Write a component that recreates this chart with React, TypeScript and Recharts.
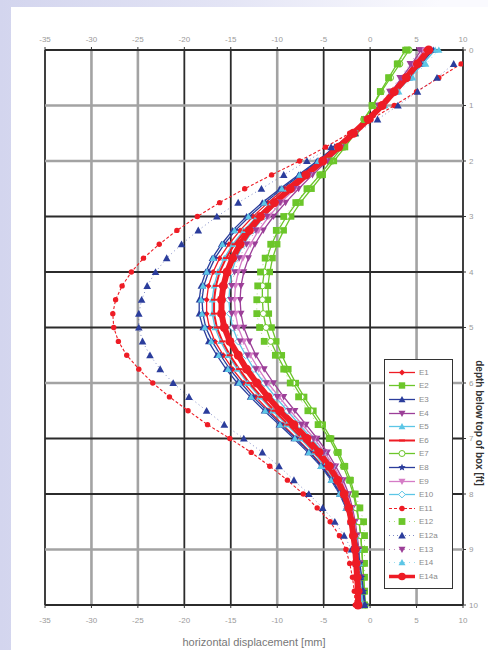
import { LineChart, Line, XAxis, YAxis, ReferenceLine, Legend } from "recharts";

// depth below top of box [ft], one row per reading
const DEPTH = [
  0, 0.25, 0.5, 0.75, 1, 1.25, 1.5, 1.75, 2, 2.25,
  2.5, 2.75, 3, 3.25, 3.5, 3.75, 4, 4.25, 4.5, 4.75,
  5, 5.25, 5.5, 5.75, 6, 6.25, 6.5, 6.75, 7, 7.25,
  7.5, 7.75, 8, 8.25, 8.5, 8.75, 9, 9.25, 9.5, 9.75, 10,
];

// horizontal displacement [mm]
const E1 = [
  6.0, 4.9, 3.7, 2.5, 1.2, -0.3, -1.9, -3.6, -5.4, -7.3,
  -9.2, -11.0, -12.6, -14.0, -15.2, -16.2, -16.9, -17.4, -17.6, -17.6,
  -17.3, -16.7, -15.8, -14.8, -13.6, -12.3, -10.9, -9.4, -7.9, -6.4,
  -5.1, -4.0, -3.1, -2.5, -2.0, -1.7, -1.5, -1.3, -1.2, -1.1, -1.0,
];
const E2 = [
  3.8, 2.9, 2.0, 1.1, 0.3, -0.6, -1.6, -2.7, -3.9, -5.1,
  -6.3, -7.5, -8.5, -9.3, -10.0, -10.5, -10.8, -11.0, -11.0, -10.9,
  -10.6, -10.1, -9.5, -8.8, -8.0, -7.1, -6.1, -5.1, -4.2, -3.4,
  -2.7, -2.1, -1.7, -1.4, -1.2, -1.0, -0.9, -0.8, -0.7, -0.6, -0.6,
];
const E3 = [
  6.8, 5.5, 4.2, 2.8, 1.4, -0.2, -1.9, -3.8, -5.7, -7.7,
  -9.7, -11.6, -13.3, -14.8, -16.0, -17.0, -17.7, -18.2, -18.4, -18.4,
  -18.0, -17.4, -16.5, -15.5, -14.3, -12.9, -11.4, -9.8, -8.2, -6.7,
  -5.3, -4.2, -3.3, -2.6, -2.1, -1.7, -1.4, -1.2, -1.0, -0.8, -0.6,
];
const E4 = [
  5.5, 4.5, 3.4, 2.3, 1.1, -0.2, -1.6, -3.1, -4.6, -6.2,
  -7.7, -9.1, -10.4, -11.5, -12.4, -13.1, -13.6, -13.9, -14.0, -13.9,
  -13.6, -13.0, -12.3, -11.4, -10.4, -9.3, -8.1, -6.9, -5.7, -4.6,
  -3.7, -2.9, -2.3, -1.9, -1.6, -1.4, -1.2, -1.1, -1.0, -0.9, -0.8,
];
const E5 = [
  7.0, 5.7, 4.3, 2.9, 1.4, -0.1, -1.7, -3.5, -5.3, -7.1,
  -8.9, -10.6, -12.2, -13.6, -14.8, -15.7, -16.4, -16.8, -17.0, -17.0,
  -16.7, -16.1, -15.3, -14.3, -13.2, -11.9, -10.5, -9.0, -7.5, -6.1,
  -4.9, -3.9, -3.0, -2.4, -1.9, -1.6, -1.3, -1.1, -1.0, -0.9, -0.8,
];
const E6 = [
  6.5, 5.3, 4.0, 2.7, 1.3, -0.2, -1.8, -3.5, -5.2, -7.0,
  -8.8, -10.5, -12.1, -13.4, -14.6, -15.5, -16.2, -16.6, -16.8, -16.8,
  -16.5, -15.9, -15.1, -14.1, -13.0, -11.7, -10.3, -8.8, -7.3, -5.9,
  -4.7, -3.7, -2.9, -2.3, -1.9, -1.6, -1.4, -1.3, -1.2, -1.1, -1.1,
];
const E7 = [
  4.2, 3.2, 2.2, 1.2, 0.3, -0.7, -1.8, -3.0, -4.2, -5.4,
  -6.7, -7.9, -9.0, -9.9, -10.6, -11.1, -11.4, -11.6, -11.6, -11.5,
  -11.2, -10.7, -10.0, -9.2, -8.3, -7.4, -6.4, -5.4, -4.4, -3.6,
  -2.9, -2.3, -1.8, -1.5, -1.2, -1.0, -0.9, -0.8, -0.7, -0.6, -0.5,
];
const E8 = [
  6.6, 5.4, 4.1, 2.7, 1.3, -0.3, -2.0, -3.8, -5.6, -7.5,
  -9.5, -11.3, -13.0, -14.5, -15.7, -16.7, -17.4, -17.9, -18.1, -18.0,
  -17.7, -17.0, -16.1, -15.1, -13.9, -12.6, -11.1, -9.6, -8.0, -6.5,
  -5.2, -4.1, -3.2, -2.5, -2.0, -1.6, -1.3, -1.1, -0.9, -0.7, -0.5,
];
const E9 = [
  5.8, 4.7, 3.6, 2.4, 1.1, -0.3, -1.7, -3.3, -4.9, -6.5,
  -8.1, -9.6, -10.9, -12.0, -12.9, -13.7, -14.2, -14.5, -14.6, -14.5,
  -14.2, -13.6, -12.9, -12.0, -11.0, -9.8, -8.6, -7.3, -6.0, -4.9,
  -3.9, -3.1, -2.5, -2.0, -1.7, -1.5, -1.3, -1.2, -1.1, -1.0, -0.9,
];
const E10 = [
  6.2, 5.0, 3.8, 2.5, 1.2, -0.2, -1.7, -3.3, -5.0, -6.7,
  -8.4, -10.0, -11.4, -12.6, -13.6, -14.4, -14.9, -15.1, -15.2, -15.1,
  -14.8, -14.2, -13.4, -12.5, -11.4, -10.2, -8.9, -7.6, -6.3, -5.1,
  -4.1, -3.3, -2.6, -2.1, -1.8, -1.5, -1.3, -1.2, -1.1, -1.0, -0.9,
];
const E11 = [
  null, 9.8, 7.4, 5.0, 2.6, 0.1, -2.2, -4.8, -7.6, -10.6,
  -13.5, -16.2, -18.6, -20.8, -22.7, -24.4, -25.7, -26.7, -27.4, -27.7,
  -27.6, -27.1, -26.2, -24.9, -23.4, -21.6, -19.6, -17.5, -15.1, -12.8,
  -10.8, -8.9, -7.2, -5.7, -4.3, -3.3, -2.6, -2.2, -1.9, -1.7, -1.6,
];
const E12 = [
  4.0, 3.0, 2.0, 1.1, 0.2, -0.6, -1.8, -3.0, -4.3, -5.4,
  -6.8, -8.0, -9.3, -10.1, -10.7, -11.3, -11.8, -12.1, -12.2, -12.2,
  -11.9, -11.4, -10.2, -9.3, -8.6, -7.7, -6.7, -5.6, -4.4, -3.5,
  -2.8, -2.2, -1.6, -1.1, -0.7, -0.6, -0.6, -0.6, -0.6, -0.6, -0.6,
];
const E12a = [
  null, 9.0, 7.2, 5.1, 3.0, 0.8, -1.6, -4.2, -6.8, -9.3,
  -11.7, -14.2, -16.5, -18.5, -20.3, -21.9, -23.1, -24.0, -24.6, -24.9,
  -24.9, -24.5, -23.7, -22.6, -21.2, -19.5, -17.6, -15.7, -13.6, -11.6,
  -9.8, -8.2, -6.6, -5.1, -3.8, -2.8, -2.0, -1.5, -1.1, -0.8, -0.6,
];
const E13 = [
  5.3, 4.3, 3.2, 2.1, 0.9, -0.4, -1.9, -3.4, -5.0, -6.6,
  -8.2, -9.7, -11.1, -12.3, -13.3, -14.1, -14.6, -14.9, -15.0, -14.9,
  -14.6, -14.0, -13.2, -12.3, -11.2, -10.0, -8.7, -7.4, -6.1, -5.0,
  -4.0, -3.2, -2.6, -2.1, -1.7, -1.5, -1.3, -1.1, -1.0, -0.9, -0.8,
];
const E14 = [
  7.4, 6.0, 4.6, 3.1, 1.6, 0.0, -1.8, -3.7, -5.6, -7.6,
  -9.5, -11.4, -13.1, -14.6, -15.9, -16.9, -17.6, -18.0, -18.2, -18.1,
  -17.8, -17.1, -16.3, -15.3, -14.1, -12.8, -11.3, -9.7, -8.1, -6.6,
  -5.3, -4.2, -3.3, -2.6, -2.1, -1.7, -1.4, -1.2, -1.1, -1.0, -0.9,
];
const E14a = [
  6.3, 5.1, 3.9, 2.6, 1.3, -0.2, -1.8, -3.4, -5.1, -6.9,
  -8.6, -10.3, -11.8, -13.0, -14.0, -14.8, -15.4, -15.8, -16.0, -16.0,
  -15.7, -15.1, -14.2, -13.3, -12.2, -11.0, -9.7, -8.2, -6.8, -5.5,
  -4.4, -3.5, -2.8, -2.3, -2.0, -1.8, -1.6, -1.5, -1.4, -1.3, -1.3,
];

const X_TICKS = [-35, -30, -25, -20, -15, -10, -5, 0, 5, 10];
const Y_TICKS = [0, 1, 2, 3, 4, 5, 6, 7, 8, 9, 10];
// grid lines that come out lighter in the scan
const SOFT_X = [-30, -25, -10, 5];
const SOFT_Y = [1, 2, 6, 9];

const RED = "#ee1c25";
const GREEN = "#6cc62a";
const BLUE = "#2b3d9c";
const PURPLE = "#9c3f98";
const CYAN = "#5cc6e6";
const PINK = "#d57cc6";

const SERIES = [
  { key: "E1", values: E1, color: RED, shape: "diamond", size: 3, width: 1.3 },
  { key: "E2", values: E2, color: GREEN, shape: "square", size: 3.2, width: 1.3 },
  { key: "E3", values: E3, color: BLUE, shape: "triangle", size: 3.5, width: 1.3 },
  { key: "E4", values: E4, color: PURPLE, shape: "triangleDown", size: 3.5, width: 1.3 },
  { key: "E5", values: E5, color: CYAN, shape: "triangle", size: 3.4, width: 1.3 },
  { key: "E6", values: E6, color: RED, shape: "dash", size: 3, width: 2 },
  { key: "E7", values: E7, color: GREEN, shape: "circleOpen", size: 3, width: 1.3 },
  { key: "E8", values: E8, color: BLUE, shape: "star", size: 3.8, width: 1.3 },
  { key: "E9", values: E9, color: PINK, shape: "triangleDown", size: 3.5, width: 1.3 },
  { key: "E10", values: E10, color: CYAN, shape: "diamondOpen", size: 3.4, width: 1.3 },
  { key: "E11", values: E11, color: RED, shape: "circle", size: 2.7, width: 1.1, dash: "3 2" },
  { key: "E12", values: E12, color: GREEN, shape: "square", size: 3.4, width: 0.6, dash: "1 4" },
  { key: "E12a", values: E12a, color: BLUE, shape: "triangle", size: 3.8, width: 0.6, dash: "1 3" },
  { key: "E13", values: E13, color: PURPLE, shape: "triangleDown", size: 3.5, width: 0.6, dash: "1 4" },
  { key: "E14", values: E14, color: CYAN, shape: "triangle", size: 3.5, width: 0.6, dash: "1 4" },
  { key: "E14a", values: E14a, color: RED, shape: "circle", size: 4.5, width: 6 },
];

// back to front
const DRAW_ORDER = ["E2", "E7", "E12", "E4", "E9", "E10", "E13", "E1", "E3", "E5", "E6", "E8", "E14", "E11", "E12a", "E14a"];

const data = DEPTH.map((d, i) => {
  const row: Record<string, number | null> = { depth: d };
  SERIES.forEach((s) => (row[s.key] = s.values[i]));
  return row;
});

const FONT = "'Liberation Sans', Arial, sans-serif";

function Marker({ cx, cy, shape, color, size }: any) {
  if (cx == null || cy == null || isNaN(cx) || isNaN(cy)) return <g />;
  const s = size;
  switch (shape) {
    case "square":
      return <rect x={cx - s} y={cy - s} width={s * 2} height={s * 2} fill={color} />;
    case "diamond":
      return <polygon points={`${cx},${cy - s} ${cx + s},${cy} ${cx},${cy + s} ${cx - s},${cy}`} fill={color} />;
    case "diamondOpen":
      return (
        <polygon points={`${cx},${cy - s} ${cx + s},${cy} ${cx},${cy + s} ${cx - s},${cy}`} fill="#fff" stroke={color} strokeWidth={1} />
      );
    case "triangle":
      return <polygon points={`${cx},${cy - s} ${cx + s},${cy + s * 0.8} ${cx - s},${cy + s * 0.8}`} fill={color} />;
    case "triangleDown":
      return <polygon points={`${cx},${cy + s} ${cx + s},${cy - s * 0.8} ${cx - s},${cy - s * 0.8}`} fill={color} />;
    case "circleOpen":
      return <circle cx={cx} cy={cy} r={s} fill="#fff" stroke={color} strokeWidth={1} />;
    case "star": {
      const pts: string[] = [];
      for (let k = 0; k < 10; k++) {
        const r = k % 2 === 0 ? s : s * 0.45;
        const a = -Math.PI / 2 + (k * Math.PI) / 5;
        pts.push(`${cx + r * Math.cos(a)},${cy + r * Math.sin(a)}`);
      }
      return <polygon points={pts.join(" ")} fill={color} />;
    }
    case "dash":
      return <line x1={cx - s} x2={cx + s} y1={cy} y2={cy} stroke={color} strokeWidth={2} />;
    default:
      return <circle cx={cx} cy={cy} r={s} fill={color} />;
  }
}

function LegendBox() {
  return (
    <div
      style={{
        width: 69,
        height: 230,
        boxSizing: "border-box",
        border: "1.5px solid #333",
        background: "#fff",
        paddingTop: 5.5,
        fontFamily: FONT,
      }}
    >
      {SERIES.map((s) => (
        <div key={s.key} style={{ height: 13.6, display: "flex", alignItems: "center" }}>
          <svg width={34} height={13} style={{ display: "block" }}>
            <line x1={4} x2={30} y1={6.5} y2={6.5} stroke={s.color} strokeWidth={Math.min(s.width, 3.5)} strokeDasharray={s.dash} />
            <Marker cx={17} cy={6.5} shape={s.shape} color={s.color} size={Math.min(s.size, 3.8)} />
          </svg>
          <span style={{ fontSize: 8, color: "#8a8a8a", lineHeight: "13px" }}>{s.key}</span>
        </div>
      ))}
    </div>
  );
}

export default function App() {
  const tick = { fontSize: 8, fill: "#9a9a9a", fontFamily: FONT };
  return (
    <div
      style={{
        position: "fixed",
        left: 0,
        top: 0,
        width: 488,
        height: 650,
        background: "linear-gradient(to right, #d3d5ee 0%, #e3e4f5 45%, #fafafe 90%)",
        overflow: "hidden",
      }}
    >
      <div style={{ position: "absolute", left: 11, top: 7, right: 0, bottom: 0, background: "#fff" }} />
      <div style={{ position: "absolute", left: 0, top: 0 }}>
        <LineChart width={488} height={650} data={data} layout="vertical" margin={{ top: 20, right: 0, bottom: 0, left: 45 }}>
          <XAxis
            xAxisId="top"
            orientation="top"
            type="number"
            domain={[-35, 10]}
            ticks={X_TICKS}
            allowDataOverflow
            height={30}
            axisLine={false}
            tickSize={3}
            tickMargin={5}
            tick={tick}
            tickLine={{ stroke: "#333" }}
          />
          <XAxis
            xAxisId="bottom"
            orientation="bottom"
            type="number"
            domain={[-35, 10]}
            ticks={X_TICKS}
            allowDataOverflow
            height={45}
            axisLine={false}
            tickSize={3}
            tickMargin={9}
            tick={tick}
            tickLine={{ stroke: "#333" }}
            label={{
              value: "horizontal displacement [mm]",
              position: "insideBottom",
              offset: 4,
              fill: "#777",
              fontSize: 11,
              fontFamily: FONT,
            }}
          />
          <YAxis
            yAxisId="d"
            orientation="right"
            type="number"
            dataKey="depth"
            domain={[0, 10]}
            ticks={Y_TICKS}
            width={25}
            axisLine={false}
            tickSize={3}
            tickMargin={3}
            tick={tick}
            tickLine={{ stroke: "#333" }}
            label={() => (
              <text
                x={479}
                y={423}
                transform="rotate(90, 479, 423)"
                textAnchor="middle"
                dominantBaseline="middle"
                fontSize={10}
                fontWeight="bold"
                fill="#333"
                fontFamily={FONT}
              >
                depth below top of box [ft]
              </text>
            )}
          />
          {X_TICKS.map((v) => (
            <ReferenceLine
              key={"gx" + v}
              x={v}
              xAxisId="top"
              yAxisId="d"
              stroke={SOFT_X.includes(v) ? "#a3a3a3" : "#2b2b2b"}
              strokeWidth={SOFT_X.includes(v) ? 2.6 : 1.8}
              ifOverflow="visible"
            />
          ))}
          {Y_TICKS.map((v) => (
            <ReferenceLine
              key={"gy" + v}
              y={v}
              xAxisId="top"
              yAxisId="d"
              stroke={SOFT_Y.includes(v) ? "#a3a3a3" : "#2b2b2b"}
              strokeWidth={SOFT_Y.includes(v) ? 2.6 : 1.8}
              ifOverflow="visible"
            />
          ))}
          {DRAW_ORDER.map((k) => {
            const s = SERIES.find((x) => x.key === k)!;
            return (
              <Line
                key={s.key}
                dataKey={s.key}
                xAxisId="top"
                yAxisId="d"
                type="linear"
                stroke={s.color}
                strokeWidth={s.width}
                strokeDasharray={s.dash}
                connectNulls
                activeDot={false}
                isAnimationActive={false}
                dot={(p: any) => (
                  <Marker key={`${s.key}-${p.index}`} cx={p.cx} cy={p.cy} shape={s.shape} color={s.color} size={s.size} />
                )}
              />
            );
          })}
          <Legend
            layout="vertical"
            align="center"
            verticalAlign="middle"
            content={() => <LegendBox />}
            wrapperStyle={{ position: "absolute", left: 384, top: 359, width: 69, height: 230 }}
          />
        </LineChart>
      </div>
    </div>
  );
}
